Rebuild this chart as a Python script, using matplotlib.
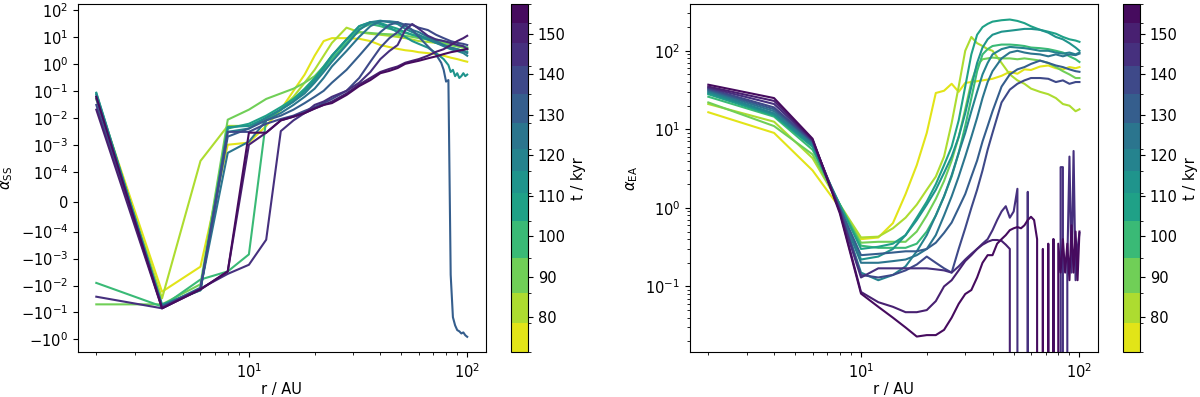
import numpy as np
import matplotlib.pyplot as plt
from matplotlib.colors import ListedColormap, BoundaryNorm, Normalize
from matplotlib.cm import ScalarMappable

# snapshot times (kyr) and colour bin edges
times = [75, 82, 90, 99, 108, 113, 119, 124, 132, 138.5, 145.5, 150, 155]
t_edges = [71.3, 78.5, 86.0, 94.6, 103.7, 110.6, 116.1, 121.5, 127.9,
           135.2, 142.0, 147.8, 152.6, 157.4]
cbar_ticks = [80, 90, 100, 110, 120, 130, 140, 150]

# ---- left panel: alpha_SS ----
r_ss = [2, 4, 6, 8, 10, 12, 14, 16, 18, 20, 22, 24, 28, 32, 36, 40, 44, 48,
        52, 56, 60, 66, 72, 78, 84, 90, 96, 100]
ss_t75 = [0.06, -0.017, -0.002, 0.001, 0.0012, 0.005, 0.02, 0.1, 0.4, 2.0, 7.0, 9.0,
          9.0, 8.5, 7.0, 5.0, 4.2, 3.6, 3.2, 3.0, 2.7, 2.5, 2.3, 2.0, 1.7, 1.5, 1.3, 1.2]
ss_t82 = [0.05, -0.03, 2.5e-4, 0.005, 0.005, 0.008, 0.02, 0.06, 0.2, 0.6, 2.0, 6.0,
          22, 15, 13, 12, 11, 10, 9, 8, 7, 6.5, 6, 5.5, 5, 4.5, 4, 4]
ss_t90 = [-0.05, -0.05, -0.009, 0.0085, 0.02, 0.05, 0.08, 0.12, 0.2, 0.35, 0.8, 2,
          8, 15, 14, 13, 12.5, 12, 11, 10, 9, 8, 7, 6, 5, 4.5, 4, 3.5]
ss_t99 = [-0.008, -0.06, -0.006, -0.003, -0.0007, 0.0085, 0.02, 0.05, 0.1, 0.25, 0.6, 1.5,
          6, 20, 30, 25, 20, 17, 14, 12, 11, 9, 8, 7, 6, 5, 4.5, 4]
ss_t108 = [0.08, -0.05, -0.015, 0.004, 0.006, 0.012, 0.025, 0.05, 0.12, 0.3, 0.8, 2,
           8, 25, 35, 33, 25, 20, 15, 12, 10, 8, 6, 5, 4, 3.5, 3, 2.8]
ss_t119 = [0.07, -0.06, -0.012, 0.003, 0.004, 0.01, 0.02, 0.04, 0.08, 0.2, 0.5, 1.2,
           5, 18, 35, 40, 35, 30, 20, 15, 12, 8, 6, 4.5, 3.5, 3, 2.5, 2]
ss_t124 = [0.06, -0.06, -0.013, 5e-4, 0.0013, 0.008, 0.015, 0.03, 0.06, 0.12, 0.3, 0.8,
           3, 10, 25, 38, 38, 35, 25, 18, 15, 10, 7, 5, 4, 3.5, 3, 2.5]
ss_t138 = [0.03, -0.065, -0.013, 0.003, 0.003, 0.006, 0.009, 0.012, 0.018, 0.025, 0.035, 0.05,
           0.1, 0.3, 1.2, 4, 9, 15, 30, 28, 22, 18, 12, 9, 7, 6, 5.5, 5]
ss_t145 = [-0.026, -0.07, -0.013, -0.0037, -0.0017, -0.0002, 0.0032, 0.008, 0.015, 0.03, 0.04, 0.06,
           0.1, 0.2, 0.5, 1.5, 3, 5, 18, 30, 20, 11, 8, 7, 6, 5, 4.5, 3.5]
ss_t150 = [0.02, -0.07, -0.014, -0.003, 0.001, 0.0028, 0.008, 0.011, 0.015, 0.022, 0.03, 0.04,
           0.08, 0.17, 0.3, 0.5, 0.65, 0.8, 1.1, 1.3, 1.5, 2, 2.8, 3.5, 5, 7, 9, 11]
ss_t155 = [0.06, -0.07, -0.014, -0.003, 0.0028, 0.0028, 0.008, 0.011, 0.015, 0.022, 0.03, 0.035,
           0.07, 0.15, 0.25, 0.45, 0.55, 0.7, 1.0, 1.15, 1.3, 1.6, 1.9, 2.3, 2.7, 3, 3.3, 3.6]

# two curves have a ragged outer end
r_ss_113 = [2, 4, 6, 8, 10, 12, 14, 16, 18, 20, 22, 24, 28, 32, 36, 40, 44, 48, 52, 56,
            60, 66, 72, 78, 82, 84, 86, 88, 90, 92, 94, 96, 98, 100]
ss_t113 = [0.085, -0.055, -0.015, 0.0045, 0.005, 0.01, 0.02, 0.04, 0.1, 0.25, 0.7, 2,
           8, 25, 35, 30, 22, 15, 10, 7, 5.5, 4, 2.5, 1.5, 0.9, 0.5, 0.6, 0.35, 0.45,
           0.3, 0.35, 0.45, 0.35, 0.4]
r_ss_132 = [2, 4, 6, 8, 10, 12, 14, 16, 18, 20, 22, 24, 28, 32, 36, 40, 44, 48, 52, 56,
            60, 66, 72, 76, 78, 80, 82, 84, 86, 88, 90, 92, 94, 96, 98, 100]
ss_t132 = [0.05, -0.06, -0.013, 0.002, 0.004, 0.008, 0.012, 0.02, 0.035, 0.06, 0.1, 0.2,
           0.6, 2, 6, 15, 28, 35, 28, 18, 10, 4.5, 2.2, 1.1, 0.6, 0.22, 0.25, -0.004,
           -0.15, -0.3, -0.45, -0.5, -0.6, -0.55, -0.7, -0.8]

ss_r_list = [r_ss, r_ss, r_ss, r_ss, r_ss, r_ss_113, r_ss, r_ss, r_ss_132, r_ss, r_ss, r_ss, r_ss]
ss_list = [ss_t75, ss_t82, ss_t90, ss_t99, ss_t108, ss_t113, ss_t119, ss_t124, ss_t132,
           ss_t138, ss_t145, ss_t150, ss_t155]

# ---- right panel: alpha_EA ----
r_ea = [2, 4, 6, 8, 10, 12, 14, 16, 18, 20, 22, 24, 26, 28, 30, 32, 34, 36, 38, 40,
        44, 48, 52, 56, 60, 66, 72, 78, 84, 90, 96, 100]
ea_t75 = [16.5, 9, 3.0, 1.0, 0.40, 0.42, 0.64, 1.5, 3.5, 9, 29, 31, 38, 30, 39, 40, 41, 42,
          43, 44, 48, 54, 51, 58, 57, 63, 65, 60, 58, 62, 60, 62]
ea_t82 = [21, 12.5, 4.3, 1.1, 0.42, 0.43, 0.55, 0.75, 1.1, 1.7, 2.5, 4.5, 12, 35, 100, 150,
          125, 115, 105, 100, 70, 50, 42, 38, 33, 30, 28, 25, 21, 20, 17, 18]
ea_t90 = [22, 11, 4.8, 1.1, 0.36, 0.37, 0.37, 0.37, 0.5, 0.8, 1.3, 2.2, 4, 8, 18, 40, 65,
          78, 80, 82, 80, 80, 78, 80, 78, 75, 70, 62, 55, 50, 45, 45]
ea_t99 = [26, 14.5, 5.5, 1.1, 0.33, 0.31, 0.31, 0.31, 0.35, 0.5, 0.8, 1.4, 2.5, 5, 11, 25,
          55, 90, 105, 115, 120, 120, 118, 115, 110, 108, 105, 100, 95, 85, 78, 72]
ea_t108 = [28, 15, 6, 1.1, 0.3, 0.32, 0.35, 0.45, 0.75, 1.2, 2.0, 3.5, 6, 13, 35, 90, 160,
           200, 220, 235, 245, 250, 240, 225, 205, 185, 175, 165, 150, 140, 135, 130]
ea_t113 = [29, 15.5, 6.2, 1.0, 0.22, 0.24, 0.3, 0.45, 0.7, 1.1, 1.7, 2.8, 4.5, 8, 16, 35,
           70, 110, 140, 160, 175, 180, 185, 190, 190, 185, 170, 150, 140, 125, 110, 100]
ea_t119 = [30, 16, 6.5, 1.0, 0.15, 0.12, 0.14, 0.18, 0.28, 0.45, 0.8, 1.4, 2.6, 5, 9, 17,
           30, 50, 70, 90, 105, 112, 110, 108, 105, 100, 100, 95, 92, 95, 90, 95]
ea_t124 = [31, 17, 6.8, 0.95, 0.2, 0.2, 0.21, 0.22, 0.25, 0.3, 0.45, 0.8, 1.4, 2.5, 4.5, 8,
           14, 25, 40, 55, 80, 95, 100, 95, 92, 90, 85, 90, 85, 90, 88, 92]
ea_t132 = [32, 18, 7.0, 1.0, 0.25, 0.26, 0.27, 0.28, 0.28, 0.3, 0.36, 0.48, 0.65, 1.0, 1.5,
           2.5, 4, 7, 11, 17, 35, 50, 58, 62, 68, 75, 70, 65, 62, 58, 55, 54]
ea_t138 = [33, 19, 7.1, 0.95, 0.14, 0.13, 0.14, 0.16, 0.19, 0.24, 0.2, 0.17, 0.15, 0.3,
           0.55, 1.0, 1.7, 3, 5.5, 9, 22, 32, 38, 42, 45, 45, 44, 40, 42, 38, 40, 40]

# the three latest snapshots are noisy at large r, full 2 AU grid
r_ea_full = [2, 4, 6, 8, 10, 12, 14, 16, 18, 20, 22, 24, 26, 28, 30, 32, 34, 36, 38, 40,
             42, 44, 46, 48, 50, 52, 54, 56, 58, 60, 62, 64, 66, 68, 70, 72, 74, 76, 78, 80,
             82, 84, 86, 88, 90, 92, 94, 96, 98, 100]
ea_t145 = [34, 21, 7.3, 0.9, 0.13, 0.17, 0.17, 0.17, 0.17, 0.17, 0.165, 0.16, 0.15, 0.18,
           0.22, 0.26, 0.3, 0.35, 0.4, 0.52, 0.7, 0.9, 1.05, 0.75, 0.9, 1.75, -1, -1, 1.6,
           -1, -1, -1, -1, -1, -1, -1, -1, 0.4, -1, -1, 3.3, 3.3, -1, 0.2, 4.5, 0.15, 5.3,
           0.12, 0.3, 0.48]
r_ea_150 = [2, 4, 6, 8, 10, 12, 14, 16, 18, 20, 22, 24, 26, 28, 30, 32, 34, 36, 38, 40,
            42, 44, 46, 48, 50]
ea_t150 = [35, 23, 7.4, 0.9, 0.085, 0.063, 0.055, 0.047, 0.047, 0.05, 0.065, 0.1, 0.12,
           0.16, 0.21, 0.25, 0.3, 0.34, 0.37, 0.39, 0.39, 0.38, 0.34, 0.3, -1]
ea_t155 = [37, 25, 7.6, 0.85, 0.081, 0.055, 0.04, 0.03, 0.023, 0.024, 0.024, 0.028, 0.04,
           0.06, 0.08, 0.09, 0.13, 0.2, 0.25, 0.25, 0.35, 0.4, 0.45, 0.52, 0.55, 0.57, 0.55,
           0.6, 0.7, 0.77, 0.7, 0.4, -1, 0.3, -1, 0.35, -1, 0.4, -1, 0.35, 0.15, 0.4, 0.15,
           0.35, 0.12, 0.6, 0.15, 0.5, 0.12, 0.5]

ea_r_list = [r_ea] * 10 + [r_ea_full, r_ea_150, r_ea_full]
ea_list = [ea_t75, ea_t82, ea_t90, ea_t99, ea_t108, ea_t113, ea_t119, ea_t124, ea_t132,
           ea_t138, ea_t145, ea_t150, ea_t155]

# colours: viridis_r evaluated at each snapshot time
colors = plt.cm.viridis_r(Normalize(t_edges[0], t_edges[-1])(times))
cmap = ListedColormap(colors)
norm = BoundaryNorm(t_edges, cmap.N)

plt.rcParams['font.size'] = 10.5
fig = plt.figure(figsize=(12, 3.97), dpi=100)
ax1 = fig.add_axes([0.0648, 0.1126, 0.3400, 0.8773])
cax1 = fig.add_axes([0.4258, 0.1126, 0.0142, 0.8773])
ax2 = fig.add_axes([0.5748, 0.1126, 0.3402, 0.8773])
cax2 = fig.add_axes([0.9358, 0.1126, 0.0142, 0.8773])

for r, a, c in zip(ss_r_list, ss_list, colors):
    ax1.plot(r, a, color=c, lw=1.5)
ax1.set_xscale('log')
ax1.set_yscale('symlog', linthresh=1e-4)
ax1.set_ylim(-3.0, 166)
ax1.set_yticks([-1, -1e-1, -1e-2, -1e-3, -1e-4, 0, 1e-4, 1e-3, 1e-2, 1e-1, 1, 10, 100])
ax1.yaxis.set_minor_locator(plt.NullLocator())
ax1.set_xlabel('r / AU', labelpad=1)
ax1.set_ylabel(r'$\alpha_{\mathrm{SS}}$')

for r, a, c in zip(ea_r_list, ea_list, colors):
    ax2.plot(r, a, color=c, lw=1.5)
ax2.set_xscale('log')
ax2.set_yscale('log')
ax2.set_ylim(0.0145, 394)
ax2.set_xlabel('r / AU', labelpad=1)
ax2.set_ylabel(r'$\alpha_{\mathrm{EA}}$')

for cax in (cax1, cax2):
    sm = ScalarMappable(norm=norm, cmap=cmap)
    cb = fig.colorbar(sm, cax=cax, ticks=cbar_ticks, spacing='proportional')
    cb.set_label('t / kyr')

fig.savefig('out.png', dpi=100)
